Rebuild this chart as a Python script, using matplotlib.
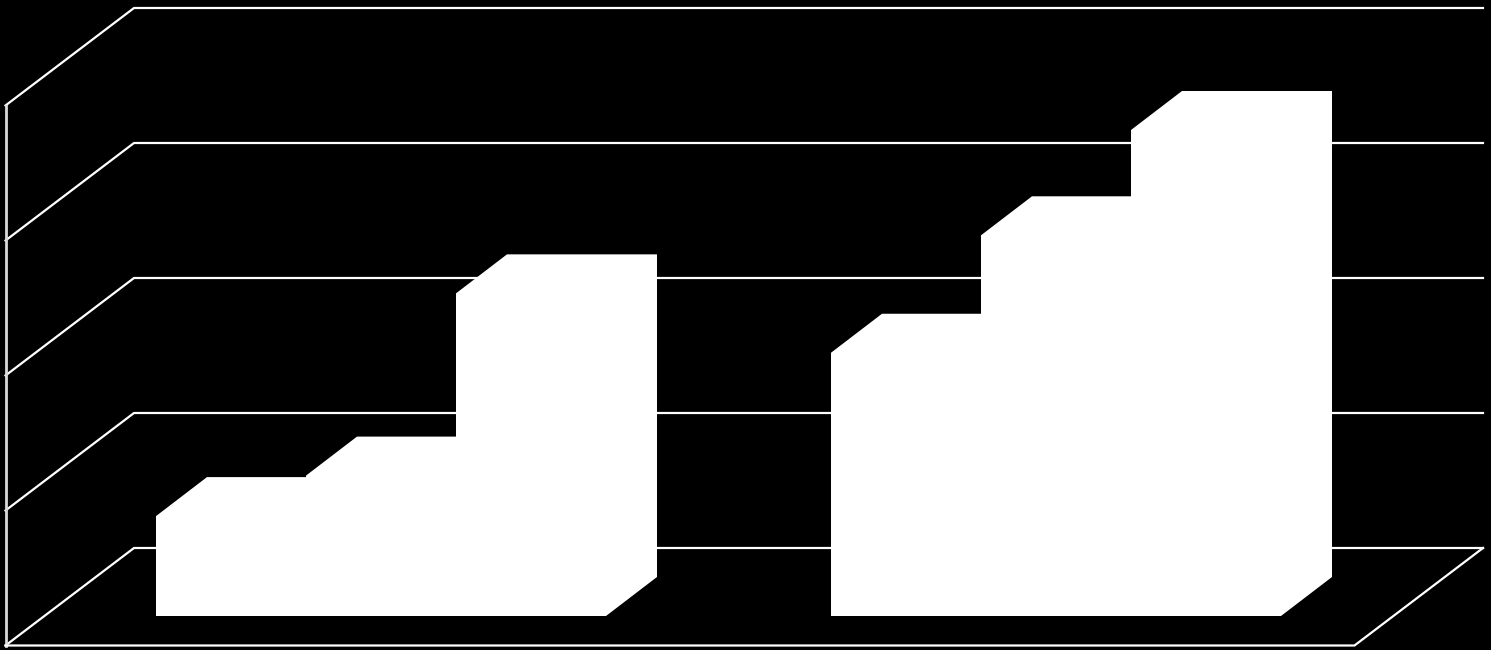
import matplotlib
matplotlib.use("Agg")
import matplotlib.pyplot as plt
from matplotlib.patches import Polygon

# values, one grid step = 10 units
grupo_1 = [7.4, 10.4, 23.9]
grupo_2 = [19.5, 28.2, 36.0]
grid_ticks = [0, 10, 20, 30, 40]

# layout of the oblique view, in pixels
UNIT = 13.5
FRONT_Y = 645.5
LEFT_X = 5.5
WALL_W = 1349
DEPTH_X, DEPTH_Y = 128.5, 97.5
BAR_BASE_Y = 616
BAR_W = 150
BAR_DX, BAR_DY = 51, 39
GROUP_X = [156, 831]


def drawBars(ax, x0, valores):
    # draw the back faces first so the front silhouette stays clean
    for i, valor in enumerate(valores):
        x = x0 + i * BAR_W
        h = valor * UNIT
        pts = [(x, BAR_BASE_Y), (x, BAR_BASE_Y - h),
               (x + BAR_DX, BAR_BASE_Y - h - BAR_DY),
               (x + BAR_W + BAR_DX, BAR_BASE_Y - h - BAR_DY),
               (x + BAR_W + BAR_DX, BAR_BASE_Y - BAR_DY),
               (x + BAR_W, BAR_BASE_Y)]
        ax.add_patch(Polygon(pts, closed=True, fc="white", ec="none", zorder=3))


fig = plt.figure(figsize=(14.91, 6.5), dpi=100, facecolor="black")
ax = fig.add_axes([0, 0, 1, 1])
ax.set_xlim(0, 1491)
ax.set_ylim(650, 0)
ax.axis("off")

line = dict(color="white", lw=1.6, solid_joinstyle="miter", zorder=2)
back_x = LEFT_X + DEPTH_X
for t in grid_ticks:
    y = FRONT_Y - t * UNIT
    ax.plot([LEFT_X, back_x, back_x + WALL_W], [y, y - DEPTH_Y, y - DEPTH_Y], **line)

# wall and floor outline
top = FRONT_Y - grid_ticks[-1] * UNIT
ax.plot([LEFT_X, LEFT_X], [FRONT_Y, top], color="#d9d9d9", lw=2, zorder=2)
ax.plot([LEFT_X, LEFT_X + WALL_W, back_x + WALL_W],
        [FRONT_Y, FRONT_Y, FRONT_Y - DEPTH_Y], **line)

drawBars(ax, GROUP_X[0], grupo_1)
drawBars(ax, GROUP_X[1], grupo_2)

fig.savefig("out.png", dpi=100, facecolor="black")
